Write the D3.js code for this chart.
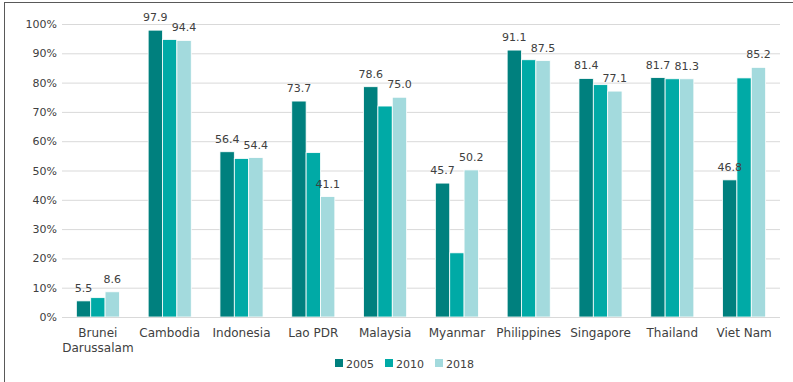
<!DOCTYPE html>
<html>
<head>
<meta charset="utf-8">
<script src="https://cdn.jsdelivr.net/npm/d3@7"></script>
<style>
  html, body { margin: 0; padding: 0; background: #fff; }
  svg { display: block; }
  text { font-family: "DejaVu Sans", "Noto Sans", sans-serif; fill: #404040; }
</style>
</head>
<body>
<svg id="chart" width="793" height="382"></svg>
<script>
// Countries along the x axis (line breaks marked with \n)
const countries = ["Brunei\nDarussalam", "Cambodia", "Indonesia", "Lao PDR", "Malaysia",
                   "Myanmar", "Philippines", "Singapore", "Thailand", "Viet Nam"];
// Series, one value per country (percent)
const years = ["2005", "2010", "2018"];
const values2005 = [5.5, 97.9, 56.4, 73.7, 78.6, 45.7, 91.1, 81.4, 81.7, 46.8];
const values2010 = [6.6, 94.7, 54.1, 56.1, 72.0, 21.9, 87.8, 79.3, 81.3, 81.6];
const values2018 = [8.6, 94.4, 54.4, 41.1, 75.0, 50.2, 87.5, 77.1, 81.3, 85.2];
// Which series carry value labels
const labelled = ["2005", "2018"];
const yTicks = [0, 10, 20, 30, 40, 50, 60, 70, 80, 90, 100];
const colors = ["#00807e", "#00aaa6", "#a3dadd"];

const series = [values2005, values2010, values2018];
const svg = d3.select("#chart");

const plotLeft = 62, plotRight = 780, plotTop = 24, plotBottom = 317;

const x0 = d3.scaleBand().domain(countries).range([plotLeft, plotRight])
  .paddingInner(0.4).paddingOuter(0.2);
const x1 = d3.scaleBand().domain(years).range([0, x0.bandwidth()]);
const y = d3.scaleLinear().domain([0, 100]).range([plotBottom, plotTop]);
const color = d3.scaleOrdinal().domain(years).range(colors);

// Outer frame: left and top edges
svg.append("line").attr("x1", 4.5).attr("x2", 4.5).attr("y1", 2).attr("y2", 382)
  .attr("stroke", "#595959").attr("stroke-width", 1);
svg.append("line").attr("x1", 4).attr("x2", 793).attr("y1", 2.5).attr("y2", 2.5)
  .attr("stroke", "#595959").attr("stroke-width", 1);

// Gridlines and y tick labels
const yAxis = d3.axisLeft(y).tickValues(yTicks).tickFormat(d => d + "%")
  .tickSize(-(plotRight - plotLeft)).tickPadding(5);
const gy = svg.append("g").attr("transform", `translate(${plotLeft},0)`).call(yAxis);
gy.select(".domain").remove();
gy.selectAll(".tick line").attr("stroke", "#d9d9d9").attr("stroke-width", 1);
gy.selectAll(".tick text").attr("font-size", 11).attr("fill", "#404040")
  .attr("x", -5).style("font-family", '"DejaVu Sans", sans-serif');

// Bars
const groups = svg.append("g").selectAll("g").data(countries).join("g")
  .attr("transform", d => `translate(${x0(d)},0)`);

groups.selectAll("rect")
  .data((c, i) => years.map((yr, k) => ({ yr, v: series[k][i] })))
  .join("rect")
  .attr("x", d => x1(d.yr))
  .attr("width", x1.bandwidth())
  .attr("y", d => y(d.v))
  .attr("height", d => y(0) - y(d.v))
  .attr("fill", d => color(d.yr))
  .attr("stroke", "#fff").attr("stroke-width", 0.8);

// Value labels for 2005 and 2018
groups.selectAll("text.val")
  .data((c, i) => years.map((yr, k) => ({ yr, v: series[k][i] })).filter(d => labelled.includes(d.yr)))
  .join("text").attr("class", "val")
  .attr("x", d => x1(d.yr) + x1.bandwidth() / 2)
  .attr("y", d => y(d.v) - 9)
  .attr("text-anchor", "middle").attr("font-size", 11)
  .text(d => d.v.toFixed(1));

// Baseline
svg.append("line").attr("x1", plotLeft).attr("x2", plotRight)
  .attr("y1", plotBottom + 0.5).attr("y2", plotBottom + 0.5)
  .attr("stroke", "#d9d9d9").attr("stroke-width", 1);

// Category labels
countries.forEach(c => {
  const cx = x0(c) + x0.bandwidth() / 2;
  const t = svg.append("text").attr("text-anchor", "middle").attr("font-size", 12)
    .attr("x", cx).attr("y", plotBottom + 20);
  c.split("\n").forEach((ln, i) => t.append("tspan")
    .attr("x", cx).attr("dy", i === 0 ? 0 : 15).text(ln));
});

// Legend
const legendX = [335, 385, 435];
const legend = svg.append("g").selectAll("g").data(years).join("g")
  .attr("transform", (d, i) => `translate(${legendX[i]},359)`);
legend.append("rect").attr("width", 8).attr("height", 8).attr("fill", d => color(d));
legend.append("text").attr("x", 11).attr("y", 8.5).attr("font-size", 11).text(d => d);
</script>
</body>
</html>
